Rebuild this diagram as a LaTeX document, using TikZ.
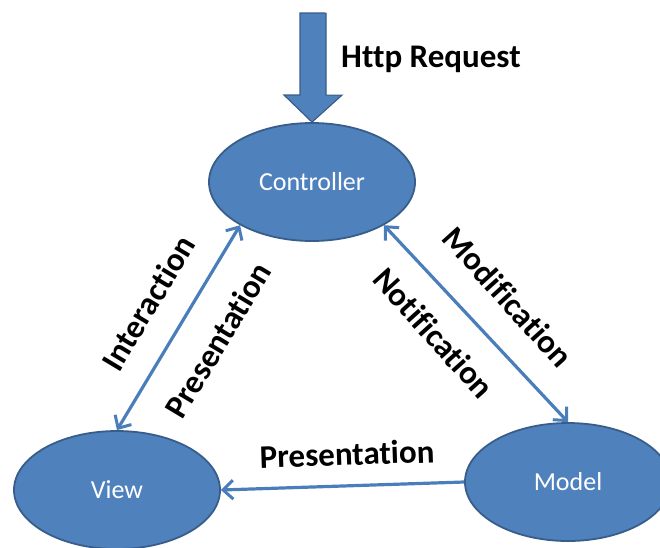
\documentclass[tikz,border=0pt]{standalone}
\usepackage{fontspec}
\setmainfont[Ligatures=NoCommon]{Carlito}
\usetikzlibrary{shapes.geometric,arrows.meta}
\definecolor{ofblue}{HTML}{4F81BD}
\definecolor{ofborder}{HTML}{385D8A}
\definecolor{arrowblue}{HTML}{4A7EBB}
\tikzset{
  mvc/.style={ellipse, fill=ofblue, draw=ofborder, line width=1.8pt,
    minimum width=206pt, minimum height=118pt, inner sep=0pt,
    text=white, font=\fontsize{26}{30}\selectfont},
  tipb/.style={},
  conn/.style={draw=arrowblue, line width=3.2pt,
    arrows={Straight Barb[length=10pt,width=19pt,line width=3pt]-Straight Barb[length=10pt,width=19pt,line width=3pt]}},
  conn1/.style={draw=arrowblue, line width=3.2pt,
    arrows={-Straight Barb[length=10pt,width=19pt,line width=3pt]}},
  lbl/.style={font=\fontsize{33}{37}\selectfont\bfseries, inner sep=0pt},
  bigarrow/.style={fill=ofblue, draw=ofborder, line width=1.2pt, line join=miter}
}
\begin{document}
\begin{tikzpicture}[x=1pt,y=-1pt]
\useasboundingbox (0,0) rectangle (660,547);
\node[mvc] (C) at (312,182) {Controller};
\node[mvc] (V) at (117,490) {View};
\node[mvc] (M) at (568,482) {Model};
% big request arrow
\coordinate (reqtop) at (314,13);
\draw[bigarrow] (reqtop) ++(-14,0) -- ++(0,82) -- ++(-16,0) -- (C.north) -- ++(30,-27) -- ++(-16,0) -- ++(0,-82) -- cycle;
\node[lbl, anchor=base west] (req) at (341,67) {Http Request};
% connectors
\draw[conn] (V.north) -- (C.211);
\draw[conn] (C.-31) -- (M.north);
\draw[conn1] (M.west) -- (V.east);
% labels
\node[lbl, rotate=59] (inter) at (148,303) {Interaction};
\node[lbl, rotate=59] (pres1) at (218,340) {Presentation};
\node[lbl, rotate=-48] (modif) at (508,297) {Modification};
\node[lbl, rotate=-48] (notif) at (434,333) {Notification};
\node[lbl, rotate=2] (pres2) at (347,454) {Presentation};
\end{tikzpicture}
\end{document}
